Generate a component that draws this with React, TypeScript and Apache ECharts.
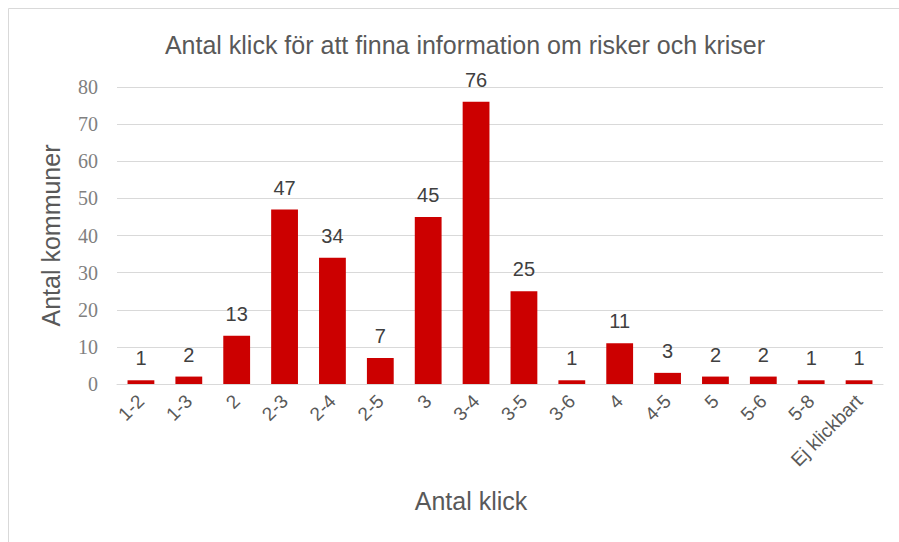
import React, { useEffect, useRef } from "react";
import * as echarts from "echarts";

const categories = ["1-2", "1-3", "2", "2-3", "2-4", "2-5", "3", "3-4", "3-5", "3-6", "4", "4-5", "5", "5-6", "5-8", "Ej klickbart"];
const values = [1, 2, 13, 47, 34, 7, 45, 76, 25, 1, 11, 3, 2, 2, 1, 1];
const titleText = "Antal klick för att finna information om risker och kriser";
const yName = "Antal kommuner";
const xName = "Antal klick";

export default function App() {
  const ref = useRef<HTMLDivElement>(null);
  useEffect(() => {
    if (!ref.current) return;
    const chart = echarts.init(ref.current, null, { renderer: "svg" });
    chart.setOption({
      animation: false,
      backgroundColor: "#ffffff",
      title: {
        text: titleText,
        left: 460,
        textAlign: "center",
        top: 27,
        textStyle: { fontFamily: "Liberation Sans", fontSize: 25, fontWeight: "normal", color: "#595959" },
      },
      graphic: [
        {
          type: "polyline",
          shape: { points: [[8.5, 542], [8.5, 8.5], [899, 8.5]] },
          style: { stroke: "#d9d9d9", lineWidth: 1, fill: "none" },
        },
      ],
      grid: { left: 117, right: 16, top: 87, bottom: 158 },
      xAxis: {
        type: "category",
        data: categories,
        name: xName,
        nameLocation: "middle",
        nameGap: 104,
        nameTextStyle: { fontFamily: "Liberation Sans", fontSize: 25, color: "#595959", padding: [0, 58, 0, 0] },
        axisLine: { lineStyle: { color: "#d9d9d9", width: 1 } },
        axisTick: { show: false },
        axisLabel: {
          rotate: 45,
          interval: 0,
          margin: 14,
          fontFamily: "Liberation Sans",
          fontSize: 19,
          color: "#595959",
        },
      },
      yAxis: {
        type: "value",
        min: 0,
        max: 80,
        interval: 10,
        name: yName,
        nameLocation: "middle",
        nameGap: 54,
        nameTextStyle: { fontFamily: "Liberation Sans", fontSize: 25, color: "#595959" },
        axisLine: { show: false },
        axisTick: { show: false },
        axisLabel: { fontFamily: "Liberation Serif", fontSize: 20, color: "#808080", margin: 19 },
        splitLine: { lineStyle: { color: "#d9d9d9", width: 1 } },
      },
      series: [
        {
          type: "bar",
          data: values,
          barCategoryGap: "44%",
          itemStyle: { color: "#CC0000" },
          label: {
            show: true,
            position: "top",
            distance: 12,
            fontFamily: "Liberation Sans",
            fontSize: 20,
            color: "#404040",
          },
        },
      ],
    });
    return () => chart.dispose();
  }, []);
  return <div ref={ref} style={{ position: "absolute", left: 0, top: 0, width: 899, height: 542 }} />;
}
